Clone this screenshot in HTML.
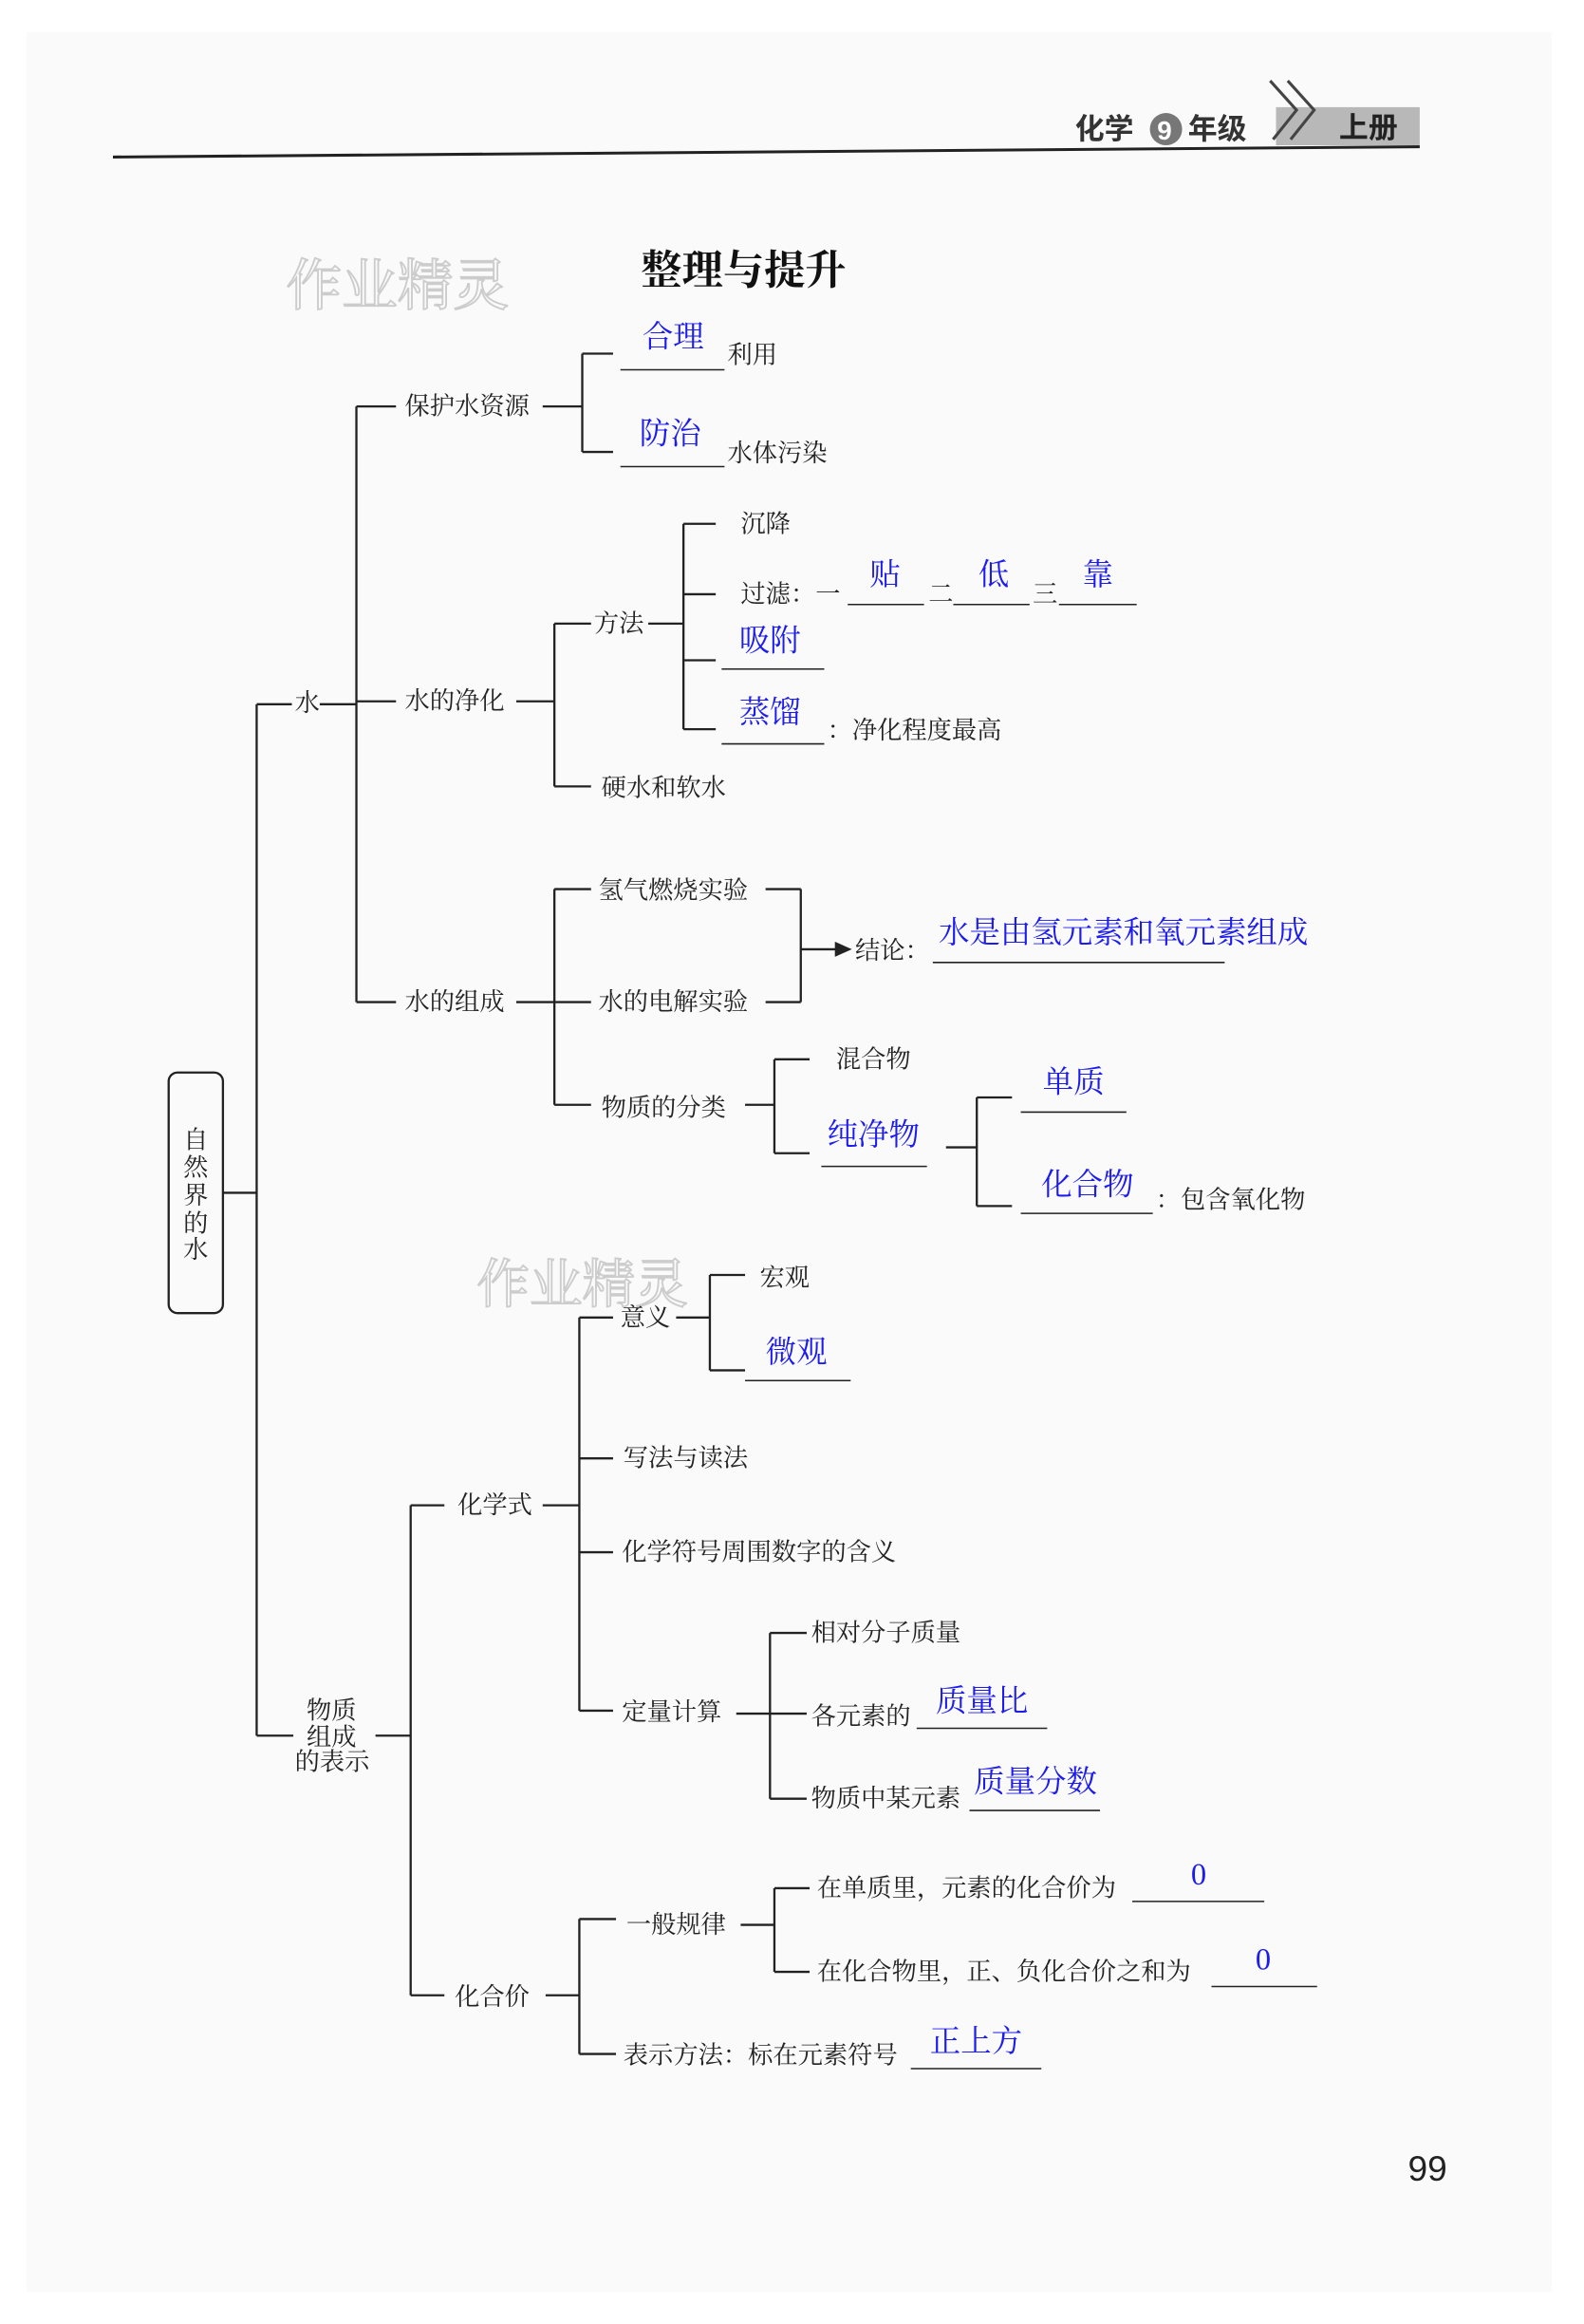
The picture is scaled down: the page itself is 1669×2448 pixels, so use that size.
<!DOCTYPE html>
<html><head><meta charset="utf-8"><style>
html,body{margin:0;padding:0;background:#fff;}
svg{display:block;}
text{font-family:"Liberation Serif","Noto Serif CJK SC",serif;font-size:17px;fill:#222;dominant-baseline:central;}
.b{fill:#1c1cf0;font-size:21px;}
.h{font-family:"Liberation Sans","Noto Sans CJK SC",sans-serif;font-weight:bold;}
line,path{stroke:#222;stroke-width:1.5;fill:none;}
.u{stroke-width:1;}
</style></head><body>
<svg width="1669" height="2448" viewBox="0 0 1080 1584" xmlns="http://www.w3.org/2000/svg">
<rect x="0" y="0" width="1080" height="1584" fill="#fff"/>
<rect x="18" y="22" width="1040" height="1540" fill="#fafafa"/>
<!-- header -->
<line x1="77" y1="107" x2="968" y2="100" style="stroke-width:2"/>
<rect x="870" y="73" width="98" height="26" fill="#b8b8b8" style="stroke:none"/>
<text class="h" x="733" y="88" style="font-size:20px;fill:#333">化学</text>
<circle cx="795" cy="88" r="11" fill="#777"/>
<text class="h" x="789" y="89" style="font-size:18px;fill:#fff">9</text>
<text class="h" x="810" y="88" style="font-size:20px;fill:#333">年级</text>
<path d="M866 55 L884 75 L868 95 M878 55 L896 75 L880 95" style="stroke:#444;stroke-width:2"/>
<text class="h" x="913" y="87" style="font-size:20px;fill:#222">上册</text>
<!-- title -->
<text class="h" x="437" y="182" style="font-size:28px;fill:#111;font-family:'Noto Serif CJK SC',serif">整理与提升</text>
<text x="195" y="195" style="font-size:38px;fill:none;stroke:#ccc;stroke-width:1.2">作业精灵</text>
<text x="325" y="876" style="font-size:36px;fill:none;stroke:#ccc;stroke-width:1.2">作业精灵</text>
<!-- root -->
<rect x="115" y="731" width="37" height="164" rx="6" style="fill:none;stroke:#222;stroke-width:1.5"/>
<text x="125" y="777">自</text><text x="125" y="796">然</text><text x="125" y="815">界</text><text x="125" y="834">的</text><text x="125" y="852">水</text>
<line x1="152" y1="813" x2="175" y2="813"/>
<line x1="175" y1="480" x2="175" y2="1183"/>
<line x1="175" y1="480" x2="199" y2="480"/>
<text x="201" y="479">水</text>
<line x1="218" y1="480" x2="243" y2="480"/>
<line x1="243" y1="277" x2="243" y2="683"/>
<!-- 保护水资源 -->
<line x1="243" y1="277" x2="270" y2="277"/><text x="276" y="277">保护水资源</text>
<line x1="370" y1="277" x2="397" y2="277"/>
<line x1="397" y1="241" x2="397" y2="308"/>
<line x1="397" y1="241" x2="418" y2="241"/><line x1="397" y1="308" x2="418" y2="308"/>
<line class="u" x1="423" y1="252" x2="494" y2="252"/><text class="b" x="438" y="230">合理</text><text x="496" y="242">利用</text>
<line class="u" x1="423" y1="318" x2="494" y2="318"/><text class="b" x="436" y="296">防治</text><text x="496" y="309">水体污染</text>
<!-- 水的净化 -->
<line x1="243" y1="478" x2="270" y2="478"/><text x="276" y="478">水的净化</text>
<line x1="352" y1="478" x2="378" y2="478"/>
<line x1="378" y1="425" x2="378" y2="536"/>
<line x1="378" y1="425" x2="403" y2="425"/><text x="405" y="425">方法</text><line x1="442" y1="425" x2="466" y2="425"/>
<line x1="466" y1="357" x2="466" y2="497"/>
<line x1="466" y1="357" x2="488" y2="357"/><text x="505" y="357">沉降</text>
<line x1="466" y1="405" x2="488" y2="405"/><text x="505" y="405">过滤：一</text>
<line class="u" x1="578" y1="412" x2="630" y2="412"/><text class="b" x="593" y="392">贴</text>
<text x="633" y="405">二</text>
<line class="u" x1="650" y1="412" x2="702" y2="412"/><text class="b" x="667" y="392">低</text>
<text x="704" y="405">三</text>
<line class="u" x1="722" y1="412" x2="775" y2="412"/><text class="b" x="738" y="392">靠</text>
<line x1="466" y1="450" x2="488" y2="450"/><text class="b" x="504" y="437">吸附</text>
<line class="u" x1="492" y1="456" x2="562" y2="456"/>
<line x1="466" y1="497" x2="488" y2="497"/><text class="b" x="504" y="486">蒸馏</text>
<line class="u" x1="492" y1="507" x2="562" y2="507"/><text x="564" y="498">：净化程度最高</text>
<line x1="378" y1="536" x2="403" y2="536"/><text x="410" y="537">硬水和软水</text>
<!-- 水的组成 -->
<line x1="243" y1="683" x2="270" y2="683"/><text x="276" y="683">水的组成</text>
<line x1="352" y1="683" x2="378" y2="683"/>
<line x1="378" y1="606" x2="378" y2="753"/>
<line x1="378" y1="606" x2="403" y2="606"/><text x="408" y="607">氢气燃烧实验</text><line x1="522" y1="606" x2="546" y2="606"/>
<line x1="378" y1="683" x2="403" y2="683"/><text x="408" y="683">水的电解实验</text><line x1="522" y1="683" x2="546" y2="683"/>
<line x1="546" y1="606" x2="546" y2="683"/>
<line x1="546" y1="647" x2="572" y2="647"/><path d="M570 643 L579 647 L570 651 Z" style="fill:#222"/>
<text x="583" y="648">结论：</text>
<line class="u" x1="636" y1="656" x2="835" y2="656"/>
<text class="b" x="640" y="636">水是由氢元素和氧元素组成</text>
<line x1="378" y1="753" x2="403" y2="753"/><text x="410" y="755">物质的分类</text><line x1="508" y1="753" x2="528" y2="753"/>
<line x1="528" y1="722" x2="528" y2="786"/>
<line x1="528" y1="722" x2="552" y2="722"/><text x="570" y="722">混合物</text>
<line x1="528" y1="786" x2="552" y2="786"/><text class="b" x="564" y="774">纯净物</text>
<line class="u" x1="560" y1="795" x2="632" y2="795"/>
<line x1="645" y1="782" x2="666" y2="782"/>
<line x1="666" y1="748" x2="666" y2="822"/>
<line x1="666" y1="748" x2="690" y2="748"/><text class="b" x="711" y="738">单质</text>
<line class="u" x1="696" y1="758" x2="768" y2="758"/>
<line x1="666" y1="822" x2="690" y2="822"/><text class="b" x="710" y="808">化合物</text>
<line class="u" x1="696" y1="827" x2="786" y2="827"/><text x="788" y="818">：包含氧化物</text>
<!-- 物质组成的表示 -->
<line x1="175" y1="1183" x2="200" y2="1183"/>
<text x="209" y="1166">物质</text><text x="209" y="1184">组成</text><text x="201" y="1201">的表示</text>
<line x1="256" y1="1183" x2="280" y2="1183"/>
<line x1="280" y1="1026" x2="280" y2="1360"/>
<line x1="280" y1="1026" x2="303" y2="1026"/><text x="312" y="1026">化学式</text><line x1="370" y1="1026" x2="395" y2="1026"/>
<line x1="395" y1="898" x2="395" y2="1166"/>
<line x1="395" y1="898" x2="418" y2="898"/><text x="423" y="898">意义</text><line x1="461" y1="898" x2="484" y2="898"/>
<line x1="484" y1="869" x2="484" y2="934"/>
<line x1="484" y1="869" x2="508" y2="869"/><text x="518" y="871">宏观</text>
<line x1="484" y1="934" x2="508" y2="934"/><text class="b" x="522" y="922">微观</text>
<line class="u" x1="508" y1="941" x2="580" y2="941"/>
<line x1="395" y1="994" x2="418" y2="994"/><text x="425" y="994">写法与读法</text>
<line x1="395" y1="1058" x2="418" y2="1058"/><text x="424" y="1058">化学符号周围数字的含义</text>
<line x1="395" y1="1166" x2="418" y2="1166"/><text x="424" y="1167">定量计算</text><line x1="502" y1="1168" x2="550" y2="1168"/>
<line x1="525" y1="1113" x2="525" y2="1226"/>
<line x1="525" y1="1113" x2="550" y2="1113"/><text x="553" y="1113">相对分子质量</text>
<text x="553" y="1170">各元素的</text>
<line class="u" x1="625" y1="1178" x2="714" y2="1178"/><text class="b" x="638" y="1160">质量比</text>
<line x1="525" y1="1226" x2="550" y2="1226"/><text x="553" y="1226">物质中某元素</text>
<line class="u" x1="661" y1="1234" x2="750" y2="1234"/><text class="b" x="664" y="1215">质量分数</text>
<!-- 化合价 -->
<line x1="280" y1="1360" x2="303" y2="1360"/><text x="310" y="1361">化合价</text><line x1="372" y1="1360" x2="395" y2="1360"/>
<line x1="395" y1="1308" x2="395" y2="1400"/>
<line x1="395" y1="1308" x2="420" y2="1308"/><text x="427" y="1312">一般规律</text><line x1="505" y1="1312" x2="528" y2="1312"/>
<line x1="528" y1="1287" x2="528" y2="1344"/>
<line x1="528" y1="1287" x2="552" y2="1287"/><text x="557" y="1287">在单质里，元素的化合价为</text>
<line class="u" x1="772" y1="1296" x2="862" y2="1296"/><text class="b" x="812" y="1278">0</text>
<line x1="528" y1="1344" x2="552" y2="1344"/><text x="557" y="1344">在化合物里，正、负化合价之和为</text>
<line class="u" x1="826" y1="1354" x2="898" y2="1354"/><text class="b" x="856" y="1336">0</text>
<line x1="395" y1="1400" x2="420" y2="1400"/><text x="425" y="1401">表示方法：标在元素符号</text>
<line class="u" x1="621" y1="1410" x2="710" y2="1410"/><text class="b" x="634" y="1392">正上方</text>
<text x="960" y="1478" style="font-family:'Liberation Sans',sans-serif;font-size:24px;fill:#222">99</text>
</svg>
</body></html>
